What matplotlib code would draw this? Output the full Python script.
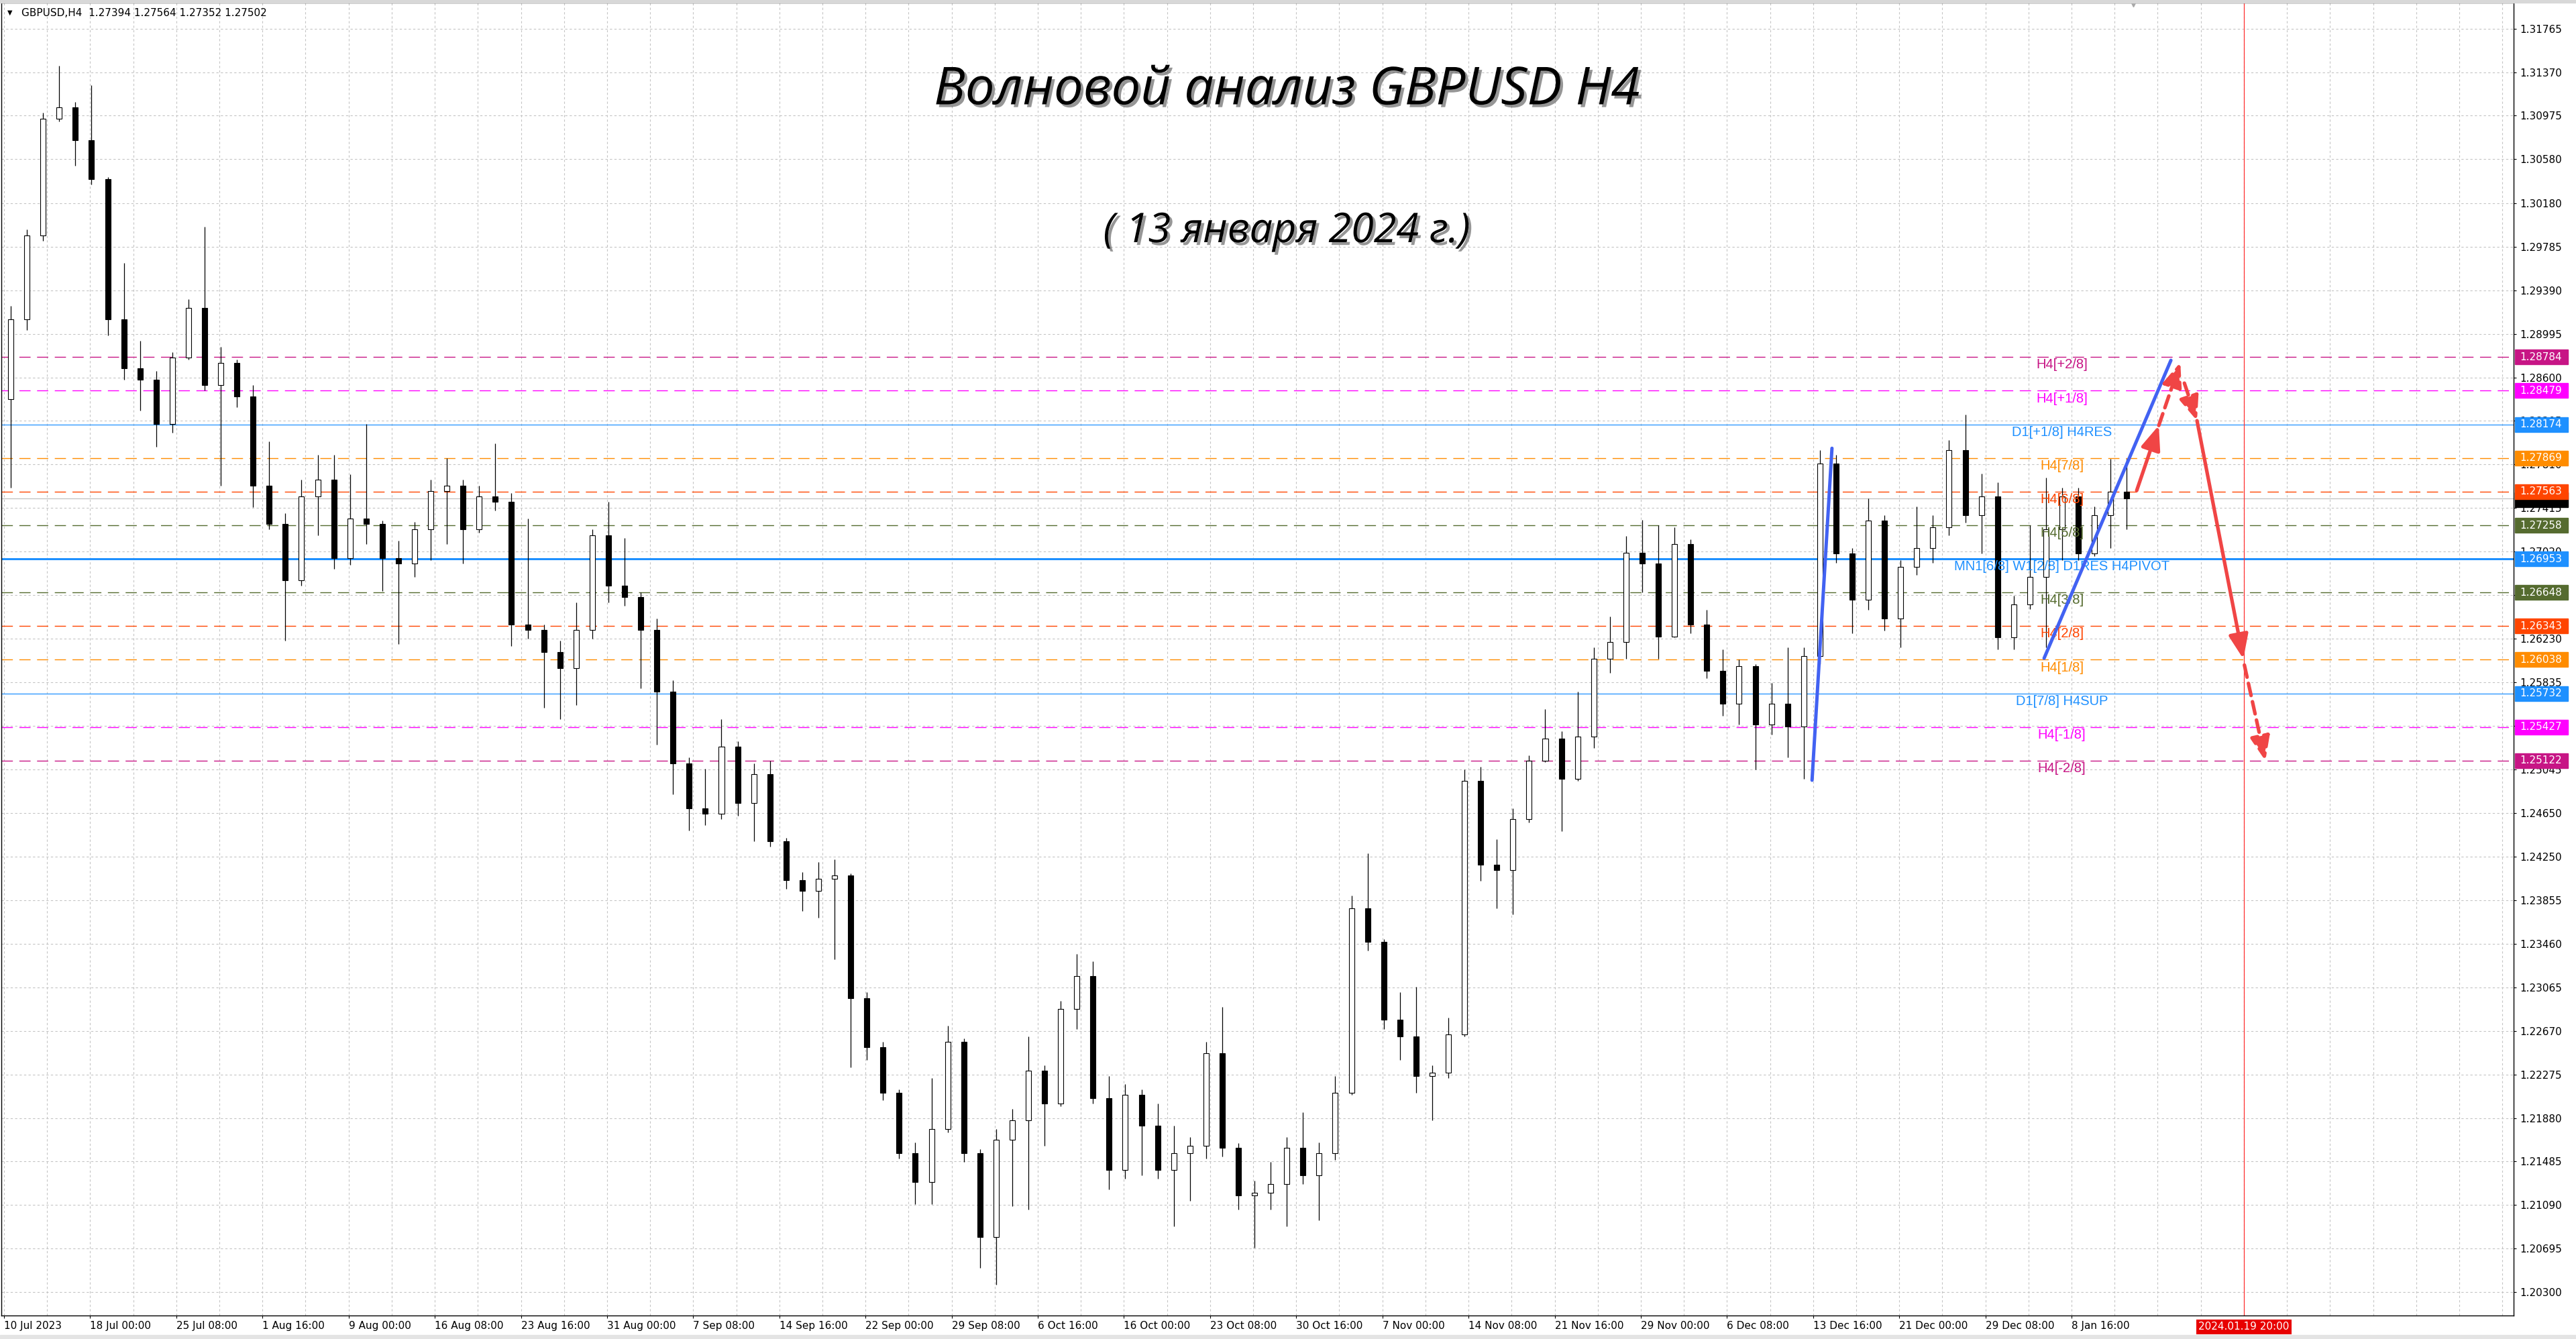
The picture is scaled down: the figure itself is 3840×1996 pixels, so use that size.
import matplotlib
matplotlib.use("Agg")
import matplotlib.pyplot as plt
import matplotlib.patheffects as pe
from matplotlib.patches import Rectangle
from matplotlib.transforms import blended_transform_factory
import numpy as np

# ─── Data (one candle per 6 H4 bars) ──────────────────────────────────────────

OPEN = [1.2840, 1.2913, 1.2989, 1.3095, 1.3105, 1.3075, 1.3040, 1.2913, 1.2868, 1.2858,
        1.2818, 1.2878, 1.2923, 1.2853, 1.2873, 1.2843, 1.2762, 1.2727, 1.2676, 1.2752,
        1.2767, 1.2696, 1.2732, 1.2727, 1.2696, 1.2691, 1.2722, 1.2757, 1.2762, 1.2722,
        1.2752, 1.2747, 1.2636, 1.2631, 1.2611, 1.2596, 1.2631, 1.2717, 1.2671, 1.2661,
        1.2631, 1.2575, 1.2510, 1.2469, 1.2464, 1.2525, 1.2474, 1.2500, 1.2439, 1.2404,
        1.2394, 1.2405, 1.2408, 1.2297, 1.2252, 1.2211, 1.2156, 1.2130, 1.2178, 1.2257,
        1.2156, 1.2080, 1.2168, 1.2186, 1.2231, 1.2201, 1.2287, 1.2317, 1.2206, 1.2141,
        1.2209, 1.2181, 1.2141, 1.2156, 1.2163, 1.2247, 1.2161, 1.2118, 1.2120, 1.2128,
        1.2161, 1.2136, 1.2156, 1.2211, 1.2378, 1.2348, 1.2277, 1.2262, 1.2226, 1.2229,
        1.2264, 1.2494, 1.2418, 1.2413, 1.2459, 1.2512, 1.2532, 1.2496, 1.2534, 1.2605,
        1.2620, 1.2701, 1.2691, 1.2625, 1.2709, 1.2636, 1.2594, 1.2564, 1.2598, 1.2545,
        1.2564, 1.2543, 1.2607, 1.2782, 1.2700, 1.2658, 1.2730, 1.2641, 1.2688, 1.2705,
        1.2724, 1.2794, 1.2735, 1.2752, 1.2624, 1.2654, 1.2679, 1.2722, 1.2752, 1.2700,
        1.2735, 1.2756]
HIGH = [1.2925, 1.2994, 1.3100, 1.3143, 1.3110, 1.3125, 1.3042, 1.2964, 1.2893, 1.2866,
        1.2883, 1.2931, 1.2997, 1.2888, 1.2876, 1.2853, 1.2802, 1.2737, 1.2767, 1.2790,
        1.2790, 1.2772, 1.2818, 1.2730, 1.2712, 1.2729, 1.2767, 1.2787, 1.2767, 1.2762,
        1.2800, 1.2755, 1.2732, 1.2636, 1.2621, 1.2656, 1.2722, 1.2747, 1.2714, 1.2665,
        1.2641, 1.2585, 1.2515, 1.2505, 1.2550, 1.2530, 1.2510, 1.2512, 1.2442, 1.2411,
        1.2420, 1.2423, 1.2410, 1.2302, 1.2257, 1.2214, 1.2166, 1.2224, 1.2272, 1.2260,
        1.2160, 1.2178, 1.2196, 1.2262, 1.2236, 1.2294, 1.2337, 1.2330, 1.2226, 1.2219,
        1.2214, 1.2201, 1.2181, 1.2171, 1.2257, 1.2289, 1.2165, 1.2131, 1.2148, 1.2171,
        1.2193, 1.2166, 1.2226, 1.2390, 1.2428, 1.2350, 1.2302, 1.2307, 1.2236, 1.2279,
        1.2504, 1.2507, 1.2441, 1.2469, 1.2517, 1.2559, 1.2539, 1.2575, 1.2615, 1.2643,
        1.2716, 1.2731, 1.2726, 1.2724, 1.2713, 1.2649, 1.2613, 1.2604, 1.2600, 1.2583,
        1.2615, 1.2615, 1.2794, 1.2790, 1.2705, 1.2750, 1.2735, 1.2694, 1.2743, 1.2735,
        1.2803, 1.2826, 1.2773, 1.2765, 1.2662, 1.2726, 1.2769, 1.2760, 1.2760, 1.2743,
        1.2786, 1.2786]
LOW = [1.2760, 1.2903, 1.2984, 1.3092, 1.3052, 1.3035, 1.2898, 1.2858, 1.2830, 1.2797,
       1.2810, 1.2876, 1.2848, 1.2762, 1.2833, 1.2742, 1.2722, 1.2621, 1.2671, 1.2717,
       1.2686, 1.2690, 1.2709, 1.2666, 1.2618, 1.2679, 1.2694, 1.2709, 1.2691, 1.2719,
       1.2739, 1.2616, 1.2623, 1.2560, 1.2550, 1.2563, 1.2623, 1.2656, 1.2653, 1.2578,
       1.2527, 1.2482, 1.2449, 1.2454, 1.2459, 1.2462, 1.2439, 1.2434, 1.2396, 1.2376,
       1.2370, 1.2332, 1.2234, 1.2241, 1.2204, 1.2151, 1.2110, 1.2110, 1.2175, 1.2148,
       1.2052, 1.2037, 1.2108, 1.2105, 1.2163, 1.2199, 1.2269, 1.2201, 1.2123, 1.2133,
       1.2136, 1.2133, 1.2090, 1.2113, 1.2151, 1.2153, 1.2105, 1.2070, 1.2105, 1.2090,
       1.2128, 1.2095, 1.2150, 1.2209, 1.2340, 1.2269, 1.2241, 1.2211, 1.2186, 1.2224,
       1.2262, 1.2403, 1.2378, 1.2373, 1.2456, 1.2511, 1.2448, 1.2494, 1.2524, 1.2592,
       1.2605, 1.2665, 1.2605, 1.2624, 1.2628, 1.2587, 1.2553, 1.2545, 1.2504, 1.2536,
       1.2515, 1.2496, 1.2600, 1.2692, 1.2628, 1.2649, 1.2630, 1.2615, 1.2681, 1.2692,
       1.2717, 1.2728, 1.2700, 1.2613, 1.2613, 1.2650, 1.2615, 1.2694, 1.2694, 1.2698,
       1.2705, 1.2722]
CLOSE = [1.2913, 1.2989, 1.3095, 1.3105, 1.3075, 1.3040, 1.2913, 1.2868, 1.2858, 1.2818,
         1.2878, 1.2923, 1.2853, 1.2873, 1.2843, 1.2762, 1.2727, 1.2676, 1.2752, 1.2767,
         1.2696, 1.2732, 1.2727, 1.2696, 1.2691, 1.2722, 1.2757, 1.2762, 1.2722, 1.2752,
         1.2747, 1.2636, 1.2631, 1.2611, 1.2596, 1.2631, 1.2717, 1.2671, 1.2661, 1.2631,
         1.2575, 1.2510, 1.2469, 1.2464, 1.2525, 1.2474, 1.2500, 1.2439, 1.2404, 1.2394,
         1.2405, 1.2408, 1.2297, 1.2252, 1.2211, 1.2156, 1.2130, 1.2178, 1.2257, 1.2156,
         1.2080, 1.2168, 1.2186, 1.2231, 1.2201, 1.2287, 1.2317, 1.2206, 1.2141, 1.2209,
         1.2181, 1.2141, 1.2156, 1.2163, 1.2247, 1.2161, 1.2118, 1.2120, 1.2128, 1.2161,
         1.2136, 1.2156, 1.2211, 1.2378, 1.2348, 1.2277, 1.2262, 1.2226, 1.2229, 1.2264,
         1.2494, 1.2418, 1.2413, 1.2459, 1.2512, 1.2532, 1.2496, 1.2534, 1.2605, 1.2620,
         1.2701, 1.2691, 1.2625, 1.2709, 1.2636, 1.2594, 1.2564, 1.2598, 1.2545, 1.2564,
         1.2543, 1.2607, 1.2782, 1.2700, 1.2658, 1.2730, 1.2641, 1.2688, 1.2705, 1.2724,
         1.2794, 1.2735, 1.2752, 1.2624, 1.2654, 1.2679, 1.2722, 1.2752, 1.2700, 1.2735,
         1.2756, 1.2750]

DATE_LABELS = ["10 Jul 2023", "18 Jul 00:00", "25 Jul 08:00", "1 Aug 16:00", "9 Aug 00:00",
               "16 Aug 08:00", "23 Aug 16:00", "31 Aug 00:00", "7 Sep 08:00", "14 Sep 16:00",
               "22 Sep 00:00", "29 Sep 08:00", "6 Oct 16:00", "16 Oct 00:00", "23 Oct 08:00",
               "30 Oct 16:00", "7 Nov 00:00", "14 Nov 08:00", "21 Nov 16:00", "29 Nov 00:00",
               "6 Dec 08:00", "13 Dec 16:00", "21 Dec 00:00", "29 Dec 08:00", "8 Jan 16:00"]

PRICE_TICKS = [1.31765, 1.31370, 1.30975, 1.30580, 1.30180, 1.29785, 1.29390, 1.28995,
               1.28600, 1.28205, 1.27810, 1.27415, 1.27020, 1.26625, 1.26230, 1.25835,
               1.25440, 1.25045, 1.24650, 1.24250, 1.23855, 1.23460, 1.23065, 1.22670,
               1.22275, 1.21880, 1.21485, 1.21090, 1.20695, 1.20300]

LEVEL_PRICES = [1.28784, 1.28479, 1.28174, 1.27869, 1.27563, 1.27258, 1.26953,
                1.26648, 1.26343, 1.26038, 1.25732, 1.25427, 1.25122]
LEVEL_NAMES = ["H4[+2/8]", "H4[+1/8]", "D1[+1/8] H4RES", "H4[7/8]", "H4[6/8]", "H4[5/8]",
               "MN1[6/8] W1[2/8] D1RES H4PIVOT", "H4[3/8]", "H4[2/8]", "H4[1/8]",
               "D1[7/8] H4SUP", "H4[-1/8]", "H4[-2/8]"]

BID = 1.27502
HEADER = "GBPUSD,H4  1.27394 1.27564 1.27352 1.27502"
FORECAST_TIME = "2024.01.19 20:00"

# wave markup: (bar index, price)
BLUE_WAVES = [([671.6, 679.0], [1.24945, 1.27957]),
              ([757.8, 804.9], [1.26052, 1.28755])]
RED_ARROWS = [((792.2, 1.27574), (800.4, 1.28164), "-"),
              ((800.4, 1.28164), (808.4, 1.28736), "--"),
              ((809.9, 1.28548), (814.6, 1.28207), "--"),
              ((814.6, 1.28207), (831.8, 1.26046), "-"),
              ((832.2, 1.25990), (840.0, 1.25121), "--")]
FORECAST_BAR = 832

# ─── Style ────────────────────────────────────────────────────────────────────

LEVEL_COLORS = ["#C71585", "#FF00FF", "#1E90FF", "#FF8C00", "#FF4500", "#556B2F", "#1E90FF",
                "#556B2F", "#FF4500", "#FF8C00", "#1E90FF", "#FF00FF", "#C71585"]
GRID = "#c4c4c4"
BLUE = "#4262F2"
RED = "#F04545"
MT_FONT = "DejaVu Sans"

W, H = 3840, 1996
fig = plt.figure(figsize=(W / 100, H / 100), dpi=100, facecolor="white")
ax = fig.add_axes([2 / W, 35 / H, 3745 / W, 1957 / H])
ax.set_facecolor("white")

XMIN, XMAX = -1.0, 932.2
YMIN, YMAX = 1.20088, 1.32000
ax.set_xlim(XMIN, XMAX)
ax.set_ylim(YMIN, YMAX)

# grid
for b in range(0, 932, 16):
    ax.axvline(b, color=GRID, lw=0.8, ls=(0, (3, 3)), zorder=0)
for p in PRICE_TICKS:
    ax.axhline(p, color=GRID, lw=0.8, ls=(0, (3, 3)), zorder=0)

# levels
for p, name, c in zip(LEVEL_PRICES, LEVEL_NAMES, LEVEL_COLORS):
    if "PIVOT" in name:
        ax.axhline(p, color=c, lw=2.2, zorder=1)
    elif "D1" in name:
        ax.axhline(p, color=c, lw=0.9, zorder=1)
    else:
        ax.axhline(p, color=c, lw=1.0, ls=(0, (12, 7)), zorder=1)
    ax.annotate(name, xy=(764.4, p), xytext=(0, -1.5), textcoords="offset points",
                ha="center", va="top", color=c, fontsize=14.5,
                family="Liberation Sans", zorder=4)

ax.axhline(BID, color="#c0c0c0", lw=0.9, zorder=1)

# candles
xs = np.arange(len(OPEN)) * 6 + 2.5
o, h, l, c = map(np.array, (OPEN, HIGH, LOW, CLOSE))
ax.vlines(xs, l, h, color="black", lw=0.9, zorder=3)
up = c >= o
ax.bar(xs[up], (c - o)[up], bottom=o[up], width=2.0, color="white",
       edgecolor="black", lw=0.8, zorder=3.2)
ax.bar(xs[~up], (o - c)[~up], bottom=c[~up], width=2.0, color="black",
       edgecolor="black", lw=0.8, zorder=3.2)

# forecast vertical
ax.axvline(FORECAST_BAR, color="#ff3030", lw=0.9, zorder=2)

# wave lines
for bx, by in BLUE_WAVES:
    ax.plot(bx, by, color=BLUE, lw=3.6, solid_capstyle="round", zorder=6)
for (x0, y0), (x1, y1), ls in RED_ARROWS:
    ax.annotate("", xy=(x1, y1), xytext=(x0, y0), zorder=6,
                arrowprops=dict(arrowstyle="-|>,head_length=0.55,head_width=0.22",
                                mutation_scale=40, color=RED, lw=3.8,
                                linestyle=ls if ls == "-" else (0, (3.5, 1.8)),
                                shrinkA=0, shrinkB=0))

# shift marker at top
ax.plot([791], [YMAX], marker="v", color="#a8a8a8", markersize=9, clip_on=False, zorder=7)

# axes look
for s in ax.spines.values():
    s.set_color("black")
    s.set_linewidth(1.0)
ax.yaxis.tick_right()
ax.set_yticks(PRICE_TICKS)
ax.set_yticklabels([f"{p:.5f}" for p in PRICE_TICKS], family=MT_FONT, fontsize=11)
ax.tick_params(axis="y", length=3, width=0.8, pad=3.5, colors="black")
ax.set_xticks(np.arange(len(DATE_LABELS)) * 32)
ax.set_xticklabels(DATE_LABELS, family=MT_FONT, fontsize=11, ha="left")
ax.tick_params(axis="x", length=3, width=0.8, pad=3, colors="black")

# price boxes on the right scale
tr = blended_transform_factory(ax.transAxes, ax.transData)
box_h = 22 / (1957 / (YMAX - YMIN))
box_x = 1.0005
box_w = 79 / 3745
ax.add_patch(Rectangle((box_x, BID - box_h / 2 - 0.0001), box_w, box_h, transform=tr,
                       color="black", clip_on=False, zorder=8))
for p, col in zip(LEVEL_PRICES, LEVEL_COLORS):
    ax.add_patch(Rectangle((box_x, p - box_h / 2), box_w, box_h, transform=tr,
                           color=col, clip_on=False, zorder=9))
    ax.text(box_x + 7.5 / 3745, p, f"{p:.5f}", transform=tr, color="white", fontsize=11,
            family=MT_FONT, ha="left", va="center", clip_on=False, zorder=10)

# forecast time box
trx = blended_transform_factory(ax.transData, ax.transAxes)
ax.text(FORECAST_BAR, -17 / 1957, FORECAST_TIME, transform=trx, ha="center", va="center",
        color="white", fontsize=11, family=MT_FONT, clip_on=False, zorder=10,
        bbox=dict(boxstyle="square,pad=0.2", facecolor="#E80000", edgecolor="none"))

# window frame strips
fig.patches.append(Rectangle((0, 1 - 4 / H), 1, 4 / H, transform=fig.transFigure,
                             color="#d8d8d8", zorder=0))
fig.patches.append(Rectangle((0, 0), 1, 6 / H, transform=fig.transFigure,
                             color="#e4e4e4", zorder=0))

# header
fig.text(11 / W, 1 - 19 / H, "▼", fontsize=7, family=MT_FONT, va="center")
fig.text(32 / W, 1 - 19 / H, HEADER, fontsize=11, family=MT_FONT, va="center")

# title
shadow = [pe.SimplePatchShadow(offset=(3, -3), shadow_rgbFace="#404040", alpha=0.55),
          pe.Normal()]
fig.text(1918 / W, 1 - 135 / H, "Волновой анализ GBPUSD H4", fontsize=56,
         family="Open Sans", style="italic", ha="center", va="center",
         path_effects=shadow)
fig.text(1918 / W, 1 - 345 / H, "( 13 января 2024 г.)", fontsize=44,
         family="Open Sans", style="italic", ha="center", va="center",
         path_effects=shadow)

fig.savefig("out.png", dpi=100, facecolor="white")
